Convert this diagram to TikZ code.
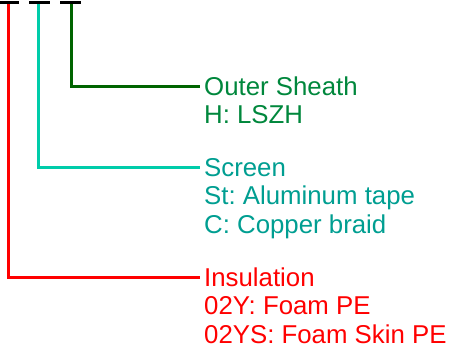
\documentclass[tikz,border=0pt]{standalone}
\usepackage{fontspec}
\setmainfont{Liberation Sans}
\usepackage{xcolor}
\usetikzlibrary{positioning}
\definecolor{sheathline}{RGB}{0,100,0}
\definecolor{sheathtext}{RGB}{0,135,60}
\definecolor{screenline}{RGB}{0,204,170}
\definecolor{screentext}{RGB}{0,158,145}
\definecolor{insred}{RGB}{255,0,0}
\frenchspacing

\begin{document}
\begin{tikzpicture}[x=1pt,y=-1pt,
    lab/.style={anchor=west, inner xsep=4pt, inner ysep=0pt,
        text height=21pt, text depth=2pt,
        font=\fontsize{25.8}{28}\selectfont},
    bar/.style={line width=3pt, black},
    lead/.style={line width=3pt}]
    \useasboundingbox (0,0) rectangle (455,346);
    % bars at the top
    \coordinate (rtop) at (8.5,2);
    \coordinate (stop) at (38.5,2);
    \coordinate (gtop) at (71,2);
    % labels
    \node[lab, text=sheathtext] (sheath) at (200,86) {Outer Sheath};
    \node[lab, text=sheathtext, below=5pt of sheath.south west, anchor=north west] (sheathH) {H: LSZH};
    \node[lab, text=screentext] (screen) at (200,167) {Screen};
    \node[lab, text=screentext, below=5pt of screen.south west, anchor=north west] (screenSt) {St: Aluminum tape};
    \node[lab, text=screentext, below=5pt of screenSt.south west, anchor=north west] (screenC) {C: Copper braid};
    \node[lab, text=insred] (ins) at (200,277) {Insulation};
    \node[lab, text=insred, below=5pt of ins.south west, anchor=north west] (insY) {02Y: Foam PE};
    \node[lab, text=insred, below=5pt of insY.south west, anchor=north west] (insYS) {02YS: Foam Skin PE};
    % leads
    \draw[lead, insred] (rtop) |- (ins.west);
    \draw[lead, screenline] (stop) |- (screen.west);
    \draw[lead, sheathline] (gtop) |- (sheath.west);
    \foreach \a/\b in {0/19, 29/50, 60/81}
        \draw[bar] (\a,2) -- (\b,2);
\end{tikzpicture}
\end{document}
